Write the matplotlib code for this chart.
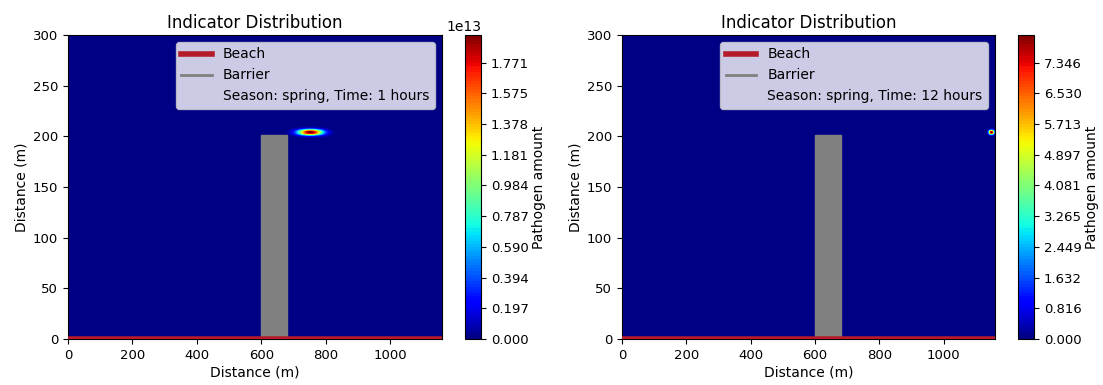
import numpy as np
import matplotlib
matplotlib.use('Agg')
from matplotlib import pyplot as plt
from matplotlib.patches import Rectangle
from matplotlib.lines import Line2D

# domain and structures (m)
X_MAX, Y_MAX = 1160, 300
BARRIER_X = [600, 680]
BARRIER_Y = [0, 201]
BEACH_Y = 0

# the two snapshots
hours = [1, 12]
season = 'spring'
plume_x = [752, 1149]        # plume centre, alongshore (m)
plume_y = [204, 204]         # plume centre, offshore (m)
plume_sx = [26, 5]           # spread along x (m)
plume_sy = [1.8, 1.3]        # spread along y (m)
plume_peak = [1.94852e13, 8.08038]

x = np.linspace(0, X_MAX, 581)
y = np.linspace(0, Y_MAX, 1201)
X, Y = np.meshgrid(x, y)

fig = plt.figure(figsize=(11.03, 3.85), dpi=100)
W, H = 1103, 385
ax_boxes = [(68, 442), (622, 995)]
cb_boxes = [(465, 481), (1018, 1034)]
top, bot = 35, 339

for i in range(2):
    ax = fig.add_axes([ax_boxes[i][0]/W, 1-bot/H, (ax_boxes[i][1]-ax_boxes[i][0])/W, (bot-top)/H])
    cax = fig.add_axes([cb_boxes[i][0]/W, 1-bot/H, (cb_boxes[i][1]-cb_boxes[i][0])/W, (bot-top)/H])

    Z = plume_peak[i]*np.exp(-0.5*((X-plume_x[i])/plume_sx[i])**2 - 0.5*((Y-plume_y[i])/plume_sy[i])**2)
    levels = np.linspace(0, plume_peak[i], 100)
    cs = ax.contourf(X, Y, Z, levels=levels, cmap='jet')
    cb = fig.colorbar(cs, cax=cax)
    cb.set_label('Pathogen amount', fontsize=10, labelpad=2)
    cb.ax.tick_params(labelsize=9.5)

    ax.add_patch(Rectangle((BARRIER_X[0], BARRIER_Y[0]), BARRIER_X[1]-BARRIER_X[0],
                           BARRIER_Y[1]-BARRIER_Y[0], color='grey', zorder=3))
    ax.plot([0, X_MAX], [BEACH_Y, BEACH_Y], color='#b51a2a', lw=4, zorder=4)

    handles = [Line2D([], [], color='#b51a2a', lw=4),
               Line2D([], [], color='grey', lw=2),
               Line2D([], [], ls='')]
    labels = ['Beach', 'Barrier', 'Season: %s, Time: %d hours' % (season, hours[i])]

    ax.set_xlim(0, X_MAX)
    ax.set_ylim(0, Y_MAX)
    ax.set_xticks([0, 200, 400, 600, 800, 1000])
    ax.set_yticks([0, 50, 100, 150, 200, 250, 300])
    ax.tick_params(labelsize=9.5)
    ax.set_xlabel('Distance (m)', fontsize=10, labelpad=3)
    ax.set_ylabel('Distance (m)', fontsize=10, labelpad=3)
    ax.set_title('Indicator Distribution', fontsize=12, pad=5)
    ax.legend(handles, labels, loc='upper right', fontsize=10, handlelength=2.2,
              labelspacing=0.5)

fig.savefig('out.png', dpi=100)
